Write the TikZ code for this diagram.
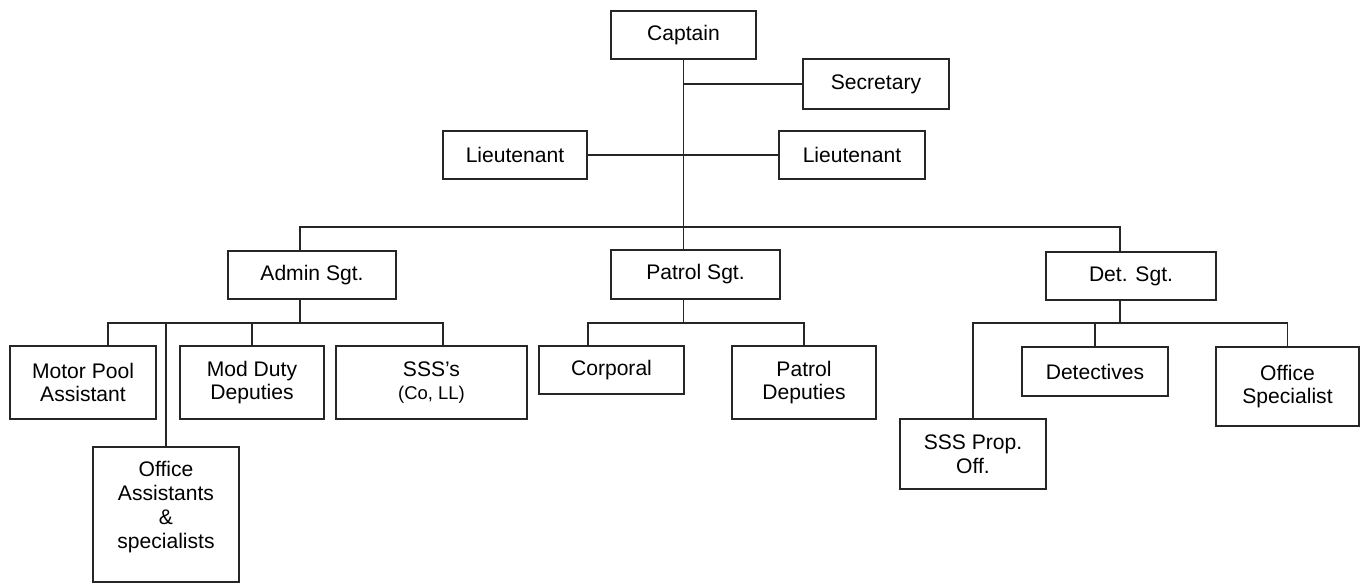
\documentclass[tikz,border=0pt]{standalone}
\usepackage{fontspec}
\setmainfont{Liberation Sans}
\usepackage{tikz}
\usetikzlibrary{calc}

\begin{document}
\begin{tikzpicture}[x=0.02cm,y=-0.02cm,
    box/.style 2 args={draw=black!85, line width=1pt, fill=white,
      minimum width=#1*0.02cm, minimum height=#2*0.02cm,
      align=center, inner sep=0pt, font=\fontsize{12}{13.6}\selectfont},
    link/.style={draw=black!85, line width=1pt}]
    \useasboundingbox (0,0) rectangle (1366,584);
    % top of the chart
    \node[box={145}{48}] (captain) at (683.5,35) {Captain};
    \node[box={146}{50}] (secretary) at (876,84) {Secretary};
    \node[box={144}{48}] (ltleft) at (515,155) {Lieutenant};
    \node[box={146}{48}] (ltright) at (852,155) {Lieutenant};
    % sergeants
    \node[box={168}{48}] (admin) at (312,275) {Admin Sgt.};
    \node[box={169}{49}] (patrol) at (695.5,274.5) {Patrol Sgt.};
    \node[box={170}{48}] (det) at (1131,276) {Det. Sgt.};
    % admin side
    \node[box={146}{73}] (motor) at (83,382.5) {Motor Pool\\Assistant};
    \node[box={146}{135}] (office) at (166,514.5) {Office\\Assistants\\\&\\specialists\\[-3pt]};
    \node[box={144}{73}] (modduty) at (252,382.5) {Mod Duty\\Deputies};
    \node[box={191}{73}] (sss) at (431.5,382.5) {SSS’s\\{\fontsize{10.5}{12}\selectfont(Co, LL)}};
    % patrol side
    \node[box={145}{48}] (corporal) at (611.5,370) {Corporal};
    \node[box={144}{73}] (patdep) at (804,382.5) {Patrol\\Deputies};
    % detective side
    \node[box={146}{70}] (sssprop) at (973,454) {SSS Prop.\\Off.};
    \node[box={146}{49}] (detectives) at (1095,371.5) {Detectives};
    \node[box={143}{79}] (ospec) at (1287.5,386.5) {Office\\Specialist};
    % junction points
    \coordinate (busL) at (300,227);
    \coordinate (busR) at (1120,227);
    \coordinate (adL) at (108,323);
    \coordinate (adR) at (443,323);
    \coordinate (paL) at (588,323);
    \coordinate (deL) at (973,323);
    % connectors
    \draw[link] (captain.south) -- (captain.south |- patrol.north);
    \draw[link] (captain.south |- secretary.west) -- (secretary.west);
    \draw[link] (ltleft.east) -- (ltright.west);
    \draw[link] (busL |- admin.north) -- (busL) -- (busR) -- (busR |- det.north);
    \draw[link] (busL |- admin.south) -- (busL |- adL);
    \draw[link] (adL |- motor.north) -- (adL) -- (adR) -- (adR |- sss.north);
    \draw[link] (office.north) -- (office.north |- adL);
    \draw[link] (modduty.north) -- (modduty.north |- adL);
    \draw[link] (captain.south |- patrol.south) -- (captain.south |- paL);
    \draw[link] (paL |- corporal.north) -- (paL) -- (patdep.north |- paL) -- (patdep.north);
    \draw[link] (busR |- det.south) -- (busR |- deL);
    \draw[link] (sssprop.north) -- (deL) -- (ospec.north |- deL) -- (ospec.north);
    \draw[link] (detectives.north) -- (detectives.north |- deL);
\end{tikzpicture}
\end{document}
